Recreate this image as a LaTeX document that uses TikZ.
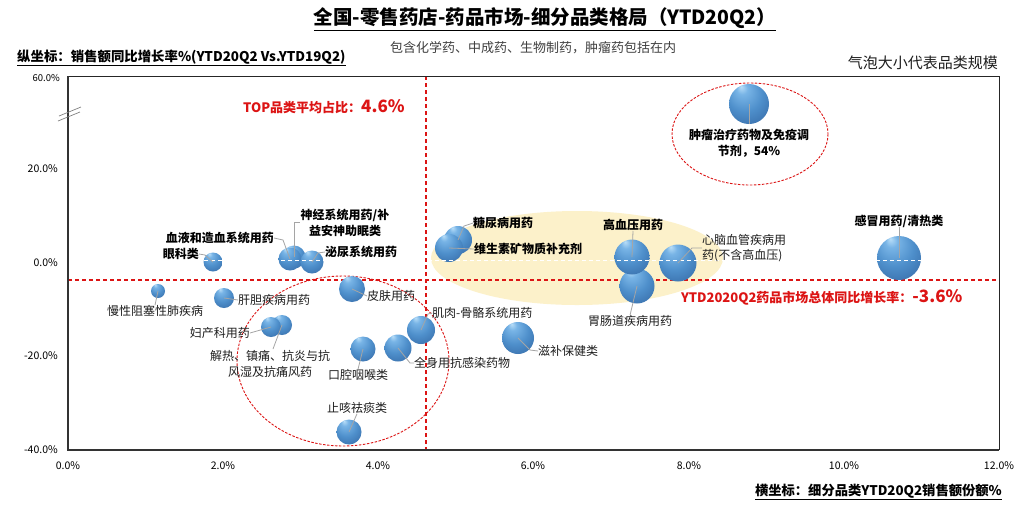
\documentclass[tikz,border=0pt]{standalone}
\usepackage{fontspec}
\setmainfont{Noto Sans CJK SC}
\definecolor{redl}{RGB}{220,20,20}
\definecolor{yel}{RGB}{252,241,202}
\definecolor{lead}{RGB}{165,165,165}
\definecolor{txt}{RGB}{30,30,30}
\definecolor{bhl}{RGB}{185,222,248}
\definecolor{bla}{RGB}{120,180,230}
\definecolor{bmid}{RGB}{78,143,203}
\definecolor{bdka}{RGB}{50,100,160}
\definecolor{bdkb}{RGB}{28,58,105}
\pgfdeclareradialshading{bubsh}{\pgfqpoint{-10bp}{22bp}}{color(0bp)=(bhl); color(7bp)=(bla); color(22bp)=(bmid); color(42bp)=(bdka); color(50bp)=(bdkb)}
\tikzset{
  bubble/.style={circle, inner sep=0pt, draw=none, shade, shading=bubsh},
  lab/.style={font=\fontsize{12}{15.5}\selectfont, inner sep=0pt, text=txt},
  blab/.style={font=\fontsize{12}{15.5}\selectfont\bfseries, inner sep=0pt, text=black},
  leader/.style={draw=lead, line width=0.8pt},
  reddash/.style={draw=redl, line width=1.2pt, dash pattern=on 4pt off 3pt},
  redell/.style={draw=redl, line width=0.9pt, dash pattern=on 2.5pt off 1.5pt},
  zerodash/.style={draw=white, line width=1pt, dash pattern=on 4pt off 3pt},
  tick/.style={font=\fontsize{10.5}{12}\selectfont, inner sep=0pt, text=black},
  redtxt/.style={font=\fontsize{13}{16}\selectfont\bfseries, inner sep=0pt, text=redl},
}
\begin{document}
\begin{tikzpicture}[x=1pt,y=-1pt]
\useasboundingbox[fill=white] (0,0) rectangle (1022,507);

% titles
\node[font=\fontsize{19.5}{22}\selectfont\bfseries, inner sep=0pt, text=black] (title) at (545,19) {\underline{全国-零售药店-药品市场-细分品类格局（YTD20Q2）}};
\node[font=\fontsize{13.4}{16}\selectfont\bfseries, inner sep=0pt, anchor=west, text=black] (ylab) at (17,58) {\underline{纵坐标：销售额同比增长率\%(YTD20Q2 Vs.YTD19Q2)}};
\node[font=\fontsize{13}{16}\selectfont, inner sep=0pt, text=black!75] (sub) at (533,48) {包含化学药、中成药、生物制药，肿瘤药包括在内};
\node[font=\fontsize{15}{18}\selectfont, inner sep=0pt, anchor=east, text=txt] (size) at (998,63) {气泡大小代表品类规模};
\node[font=\fontsize{13.3}{16}\selectfont\bfseries, inner sep=0pt, anchor=east, text=black] (xlab) at (1002,492) {\underline{横坐标：细分品类YTD20Q2销售额份额\%}};

% highlight regions
\fill[yel] (577,258) ellipse [x radius=146, y radius=47];

% reference lines
\draw[reddash] (68,280) -- (999,280);
\draw[reddash] (426,76) -- (426,450);

% dashed ellipses
\draw[redell] (750,134) ellipse [x radius=78, y radius=51];
\draw[redell] (343,361) ellipse [x radius=106, y radius=85];

% axes frame
\draw[black!85, line width=0.8pt] (68,76) -- (999,76) -- (999,450);
\draw[black!80, line width=1.4pt] (68,76) -- (68,450) -- (999,450);

% axis break
\draw[gray, line width=0.7pt] (59,116) -- (81,107);
\draw[gray, line width=0.7pt] (58,121) -- (80,112);

% tick labels
\node[tick, anchor=east, font=\fontsize{9.5}{11}\selectfont] (y60) at (60,78) {60.0\%};
\node[tick, anchor=east] (y20) at (58,169) {20.0\%};
\node[tick, anchor=east] (y0) at (58,263) {0.0\%};
\node[tick, anchor=east] (ym20) at (58,356) {-20.0\%};
\node[tick, anchor=east] (ym40) at (58,450) {-40.0\%};
\node[tick] (x0) at (68,466) {0.0\%};
\node[tick] (x2) at (223,466) {2.0\%};
\node[tick] (x4) at (378,466) {4.0\%};
\node[tick] (x6) at (533,466) {6.0\%};
\node[tick] (x8) at (689,466) {8.0\%};
\node[tick] (x10) at (844,466) {10.0\%};
\node[tick] (x12) at (999,466) {12.0\%};

% bubbles
\node[bubble, minimum size=40pt] (zl) at (749,104) {};
\node[bubble, minimum size=44pt] (gm) at (899,258) {};
\node[bubble, minimum size=35pt] (wc) at (637,286) {};
\node[bubble, minimum size=35pt] (gxy) at (632,257) {};
\node[bubble, minimum size=37pt] (xn) at (678,263) {};
\node[bubble, minimum size=28pt] (tnb) at (458,240) {};
\node[bubble, minimum size=28pt] (wss) at (449,248) {};
\node[bubble, minimum size=32pt] (zb) at (518,338) {};
\node[bubble, minimum size=28pt] (jr) at (421,330) {};
\node[bubble, minimum size=27pt] (qs) at (398,348) {};
\node[bubble, minimum size=25pt] (kq) at (363,349) {};
\node[bubble, minimum size=25pt] (zk) at (349,432) {};
\node[bubble, minimum size=20pt] (jrt) at (282,325) {};
\node[bubble, minimum size=20pt] (fc) at (271,327) {};
\node[bubble, minimum size=20pt] (gd) at (224,298) {};
\node[bubble, minimum size=14pt] (mz) at (158,291) {};
\node[bubble, minimum size=26pt] (pf) at (352,289) {};
\node[bubble, minimum size=19pt] (yk) at (213,262) {};
\node[bubble, minimum size=23pt] (sj) at (294,257) {};
\node[bubble, minimum size=23pt] (xy) at (290,259) {};
\node[bubble, minimum size=23pt] (my) at (312,262) {};

% zero gridline (white dashed)
\coordinate (zs) at (78,260);
\coordinate (ze) at (999,260);
\draw[zerodash] (zs) -- (ze);

% labels
\node[blab, align=center] (zlL) at (749,143) {肿瘤治疗药物及免疫调\\节剂，54\%};
\node[blab] (gmL) at (899,221) {感冒用药/清热类};
\node[blab] (gxyL) at (633,225) {高血压用药};
\node[lab, anchor=west, align=left] (xnL) at (702,248) {心脑血管疾病用\\药(不含高血压)};
\node[lab] (wcL) at (630,321) {胃肠道疾病用药};
\node[blab, anchor=west] (tnbL) at (473,223) {糖尿病用药};
\node[blab, anchor=west] (wssL) at (474,249) {维生素矿物质补充剂};
\node[lab, anchor=west] (zbL) at (538,351) {滋补保健类};
\node[lab, anchor=west] (jrL) at (432,313) {肌肉-骨骼系统用药};
\node[lab, anchor=west] (qsL) at (414,363) {全身用抗感染药物};
\node[lab] (kqL) at (358,375) {口腔咽喉类};
\node[lab] (zkL) at (357,408) {止咳祛痰类};
\node[lab, align=center] (jrtL) at (270,364) {解热、镇痛、抗炎与抗\\风湿及抗痛风药};
\node[lab, anchor=east] (fcL) at (250,333) {妇产科用药};
\node[lab, anchor=west] (gdL) at (238,300) {肝胆疾病用药};
\node[lab] (mzL) at (155,311) {慢性阻塞性肺疾病};
\node[lab, anchor=west] (pfL) at (367,296) {皮肤用药};
\node[blab, anchor=east] (ykL) at (199,254) {眼科类};
\node[blab, anchor=east] (xyL) at (274,238) {血液和造血系统用药};
\node[blab, align=center] (sjL) at (345,223) {神经系统用药/补\\益安神助眠类};
\node[blab, anchor=west] (myL) at (325,252) {泌尿系统用药};

% red annotations
\node[redtxt, anchor=west] (topL) at (243,107) {TOP品类平均占比：{\fontsize{17}{20}\selectfont 4.6\%}};
\node[redtxt, anchor=west] (mktL) at (681,297) {YTD2020Q2药品市场总体同比增长率：{\fontsize{17}{20}\selectfont -3.6\%}};

% leader lines
\coordinate (zlE) at (749,124);
\coordinate (jrtE) at (273,349);
\coordinate (sjE) at (300,222);
\draw[leader] (zl.center) -- (zlE);
\draw[leader] (gm.center) -- (gmL.south);
\draw[leader] (gxy.center) -- (gxyL.south);
\draw[leader] (xn.center) -- (692,248) -- (xnL.west);
\draw[leader] (wc.center) -- (wcL.north);
\draw[leader] (tnb.center) -- (464,226) -- (tnbL.west);
\draw[leader] (wss.center) -- (wssL.west);
\draw[leader] (zb.center) -- (530,350) -- (zbL.west);
\draw[leader] (jr.center) -- (428,314) -- (jrL.west);
\draw[leader] (qs.center) -- (410,363) -- (qsL.west);
\draw[leader] (kq.center) -- (kqL.north);
\draw[leader] (zk.center) -- (zkL.south);
\draw[leader] (jrt.center) -- (jrtE);
\draw[leader] (fc.center) -- (fcL.east);
\draw[leader] (gd.center) -- (gdL.west);
\draw[leader] (mz.center) -- (mzL.north);
\draw[leader] (pf.center) -- (pfL.west);
\draw[leader] (yk.center) -- (205,255) -- (ykL.east);
\draw[leader] (xy.center) -- (283,240) -- (xyL.east);
\draw[leader] (sj.center) -- (294,222) -- (sjE);
\draw[leader] (my.center) -- (318,253) -- (myL.west);
\end{tikzpicture}
\end{document}
